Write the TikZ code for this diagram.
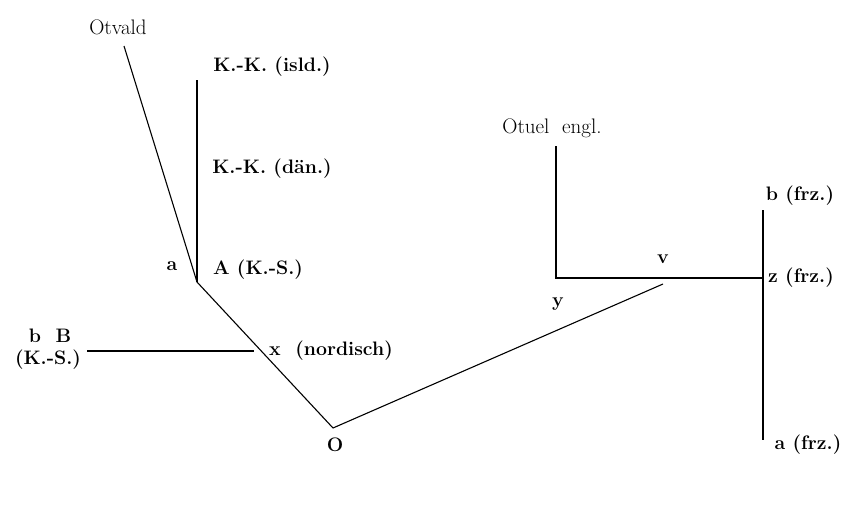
\documentclass[tikz,border=0pt]{standalone}
\begin{document}
\begin{tikzpicture}[x=1pt,y=-1pt,
  lbl/.style={inner sep=0pt,font=\fontsize{19.5}{22}\selectfont\bfseries},
  lblr/.style={inner sep=0pt,font=\fontsize{21}{24}\selectfont},
  ln/.style={line width=1.1pt}]
\useasboundingbox (0,0) rectangle (855,504);
% junction points
\coordinate (otv) at (124,46);
\coordinate (A) at (197,282);
\coordinate (kktop) at (197,80);
\coordinate (O) at (333,428);
\coordinate (bBend) at (87,351);
\coordinate (xend) at (254,351);
\coordinate (vend) at (663,284);
\coordinate (ytop) at (556,146);
\coordinate (y) at (556,278);
\coordinate (z) at (763,278);
\coordinate (btop) at (763,210);
\coordinate (abot) at (763,440);
% lines
\draw[ln] (otv) -- (A);
\draw[ln] (kktop) -- (A);
\draw[ln] (A) -- (O);
\draw[ln] (bBend) -- (xend);
\draw[ln] (O) -- (vend);
\draw[ln] (ytop) -- (y) -- (z);
\draw[ln] (btop) -- (abot);
% labels
\node[lblr] (lotv) at (118,27) {Otvald};
\node[lbl] (lisld) at (272,67) {K.-K. (isld.)};
\node[lbl] (ldan) at (272,169) {K.-K. (dän.)};
\node[lbl] (lA) at (258,270) {A (K.-S.)};
\node[lbl] (la) at (172,266) {a};
\node[lbl] (lbB) at (50,336) {b\ \ B};
\node[lbl] (lKS) at (48,360) {(K.-S.)};
\node[lbl] (lx) at (331,351) {x\ \ (nordisch)};
\node[lbl] (lO) at (335,445) {O};
\node[lblr] (lotu) at (552,128) {Otuel\ \ engl.};
\node[lbl] (lv) at (663,259) {v};
\node[lbl] (ly) at (558,304) {y};
\node[lbl] (lb) at (800,196) {b (frz.)};
\node[lbl] (lz) at (801,278) {z (frz.)};
\node[lbl] (lafrz) at (808,445) {a (frz.)};
\end{tikzpicture}
\end{document}
